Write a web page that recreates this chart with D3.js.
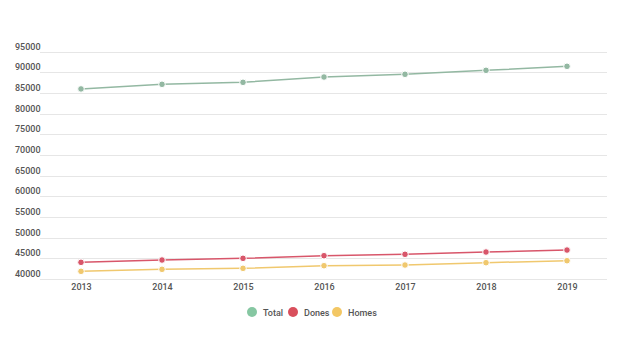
<!DOCTYPE html>
<html>
<head>
<meta charset="utf-8">
<script src="https://cdn.jsdelivr.net/npm/d3@7"></script>
<style>
  body { margin: 0; background: #fff; font-family: Roboto, "Noto Sans", sans-serif; }
</style>
</head>
<body>
<div class="chart"></div>
<script>
const years = ["2013", "2014", "2015", "2016", "2017", "2018", "2019"];
const total = [85950, 87070, 87550, 88830, 89490, 90450, 91420];
const dones = [44030, 44590, 45000, 45630, 45970, 46520, 47000];
const homes = [41860, 42340, 42580, 43210, 43380, 43940, 44420];
const yTicks = [40000, 45000, 50000, 55000, 60000, 65000, 70000, 75000, 80000, 85000, 90000, 95000];
const seriesNames = ["Total", "Dones", "Homes"];
const seriesColors = ["#86c7a2", "#d94f5c", "#f3c764"];
const lineColors = ["#93b8a2", "#d8566a", "#f0c86e"];

const W = 625, H = 352;
const left = 40, right = 607;

const svg = d3.select('.chart').append('svg')
    .attr('width', W)
    .attr('height', H);

const x = d3.scalePoint()
    .domain(years)
    .range([left + 0.5, right + 0.5])
    .padding(0.5);

const y = d3.scaleLinear()
    .domain([40000, 95000])
    .range([279, 51.5]);

// gridlines + labels (labels sit above the line)
const grid = svg.append('g');
grid.selectAll('line')
    .data(yTicks)
    .enter()
    .append('line')
    .attr('x1', left)
    .attr('x2', right)
    .attr('y1', d => Math.round(y(d)) + 0.5)
    .attr('y2', d => Math.round(y(d)) + 0.5)
    .attr('stroke', '#e6e6e6')
    .attr('stroke-width', 1);

grid.selectAll('text')
    .data(yTicks)
    .enter()
    .append('text')
    .attr('x', 15)
    .attr('y', d => Math.round(y(d)) - 2)
    .style('font-size', '9px')
    .style('font-weight', 500)
    .style('fill', '#555')
    .text(d => d);

// x axis labels
const xAxis = d3.axisBottom(x).tickSize(0).tickPadding(0);
const xg = svg.append('g')
    .attr('transform', 'translate(0, 284)')
    .call(xAxis);
xg.select('.domain').remove();
xg.selectAll('text')
    .attr('dy', '0.71em')
    .style('font-family', 'Roboto, sans-serif')
    .style('font-size', '9px')
    .style('font-weight', 500)
    .style('fill', '#555');

const allSeries = [total, dones, homes];

const line = d3.line()
    .x((d, i) => x(years[i]))
    .y(d => y(d));

allSeries.forEach((vals, k) => {
    svg.append('path')
        .datum(vals)
        .attr('fill', 'none')
        .attr('stroke', lineColors[k])
        .attr('stroke-width', 1.5)
        .attr('d', line);

    svg.append('g').selectAll('circle')
        .data(vals)
        .enter()
        .append('circle')
        .attr('cx', (d, i) => x(years[i]))
        .attr('cy', d => y(d))
        .attr('r', 3.3)
        .attr('fill', lineColors[k])
        .attr('stroke', '#fff')
        .attr('stroke-width', 1);
});

// legend
const legendX = [252, 293, 337];
const legend = svg.append('g');
seriesNames.forEach((name, k) => {
    legend.append('circle')
        .attr('cx', legendX[k])
        .attr('cy', 312)
        .attr('r', 5)
        .attr('fill', seriesColors[k]);
    legend.append('text')
        .attr('x', legendX[k] + 11)
        .attr('y', 315.5)
        .style('font-size', '9px')
        .style('font-weight', 500)
        .style('fill', '#555')
        .text(name);
});
</script>
</body>
</html>
